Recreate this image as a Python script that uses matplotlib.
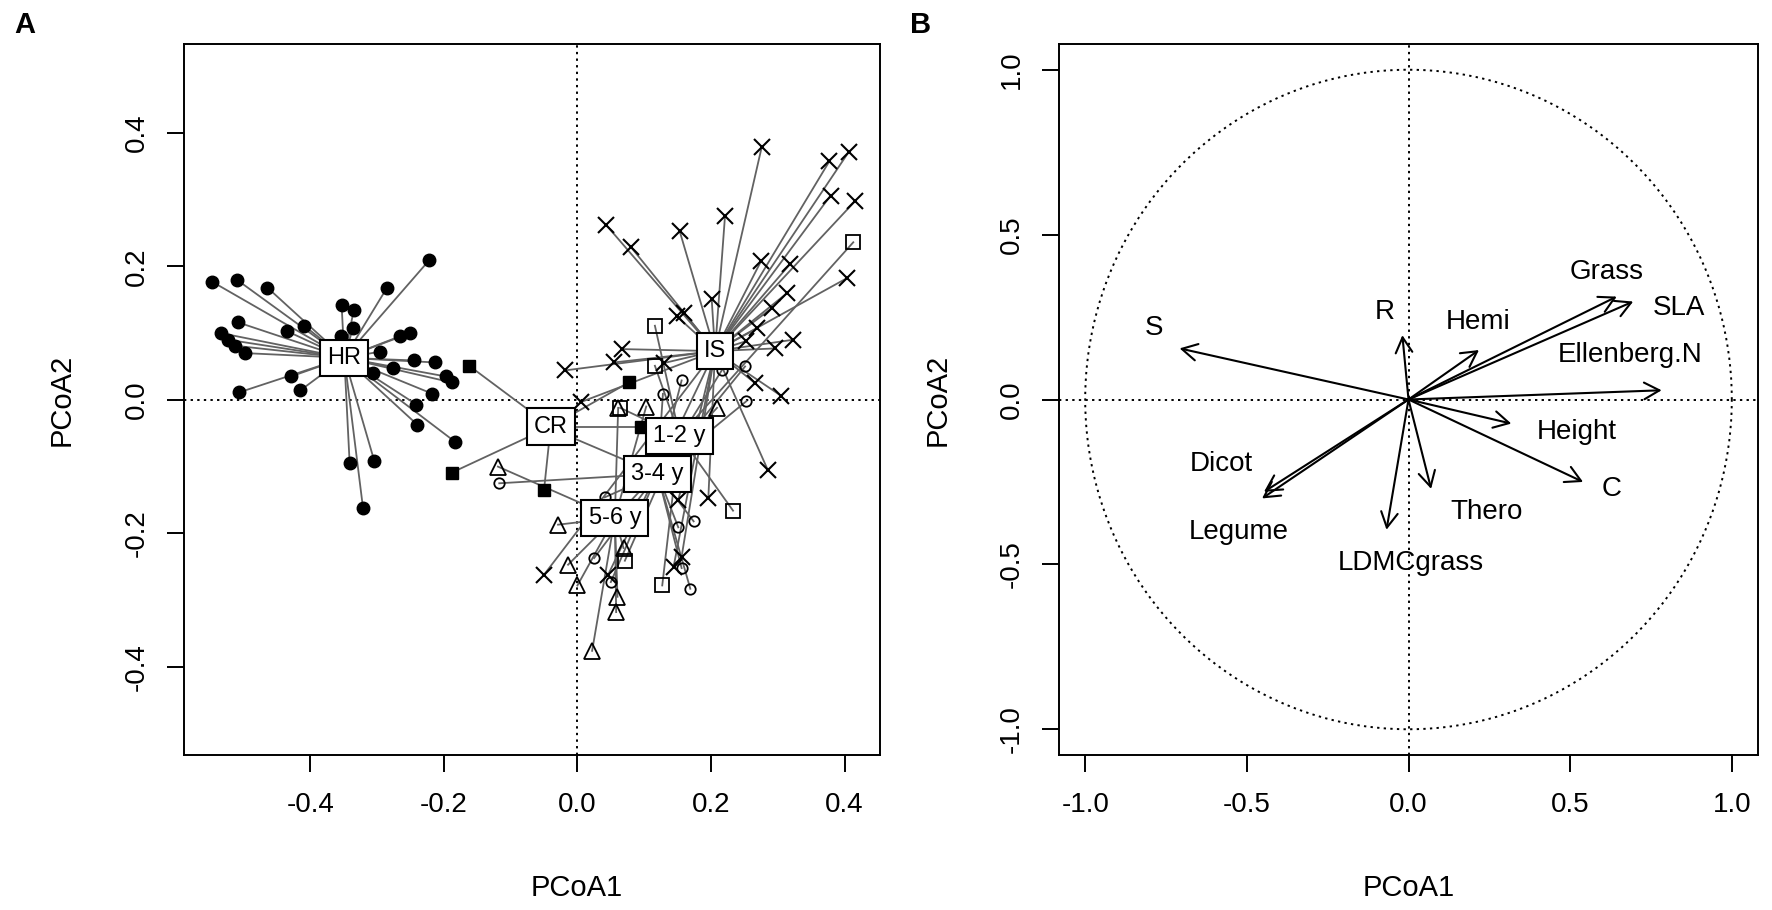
import numpy as np
import matplotlib.pyplot as plt

plt.rcParams['font.family'] = ['Liberation Sans', 'DejaVu Sans']

# ---- Panel A: PCoA scores per group ----
hr_x = [-0.547, -0.510, -0.464, -0.222, -0.285, -0.353, -0.335, -0.336, -0.354, -0.508,
        -0.435, -0.409, -0.534, -0.523, -0.512, -0.498, -0.266, -0.250, -0.296, -0.245,
        -0.213, -0.276, -0.197, -0.188, -0.306, -0.217, -0.241, -0.240, -0.183, -0.507,
        -0.429, -0.415, -0.341, -0.304, -0.321]
hr_y = [0.177, 0.180, 0.168, 0.209, 0.168, 0.142, 0.134, 0.108, 0.095, 0.116,
        0.103, 0.111, 0.100, 0.090, 0.081, 0.070, 0.095, 0.100, 0.072, 0.059,
        0.056, 0.048, 0.035, 0.026, 0.040, 0.009, -0.007, -0.037, -0.063, 0.011,
        0.035, 0.014, -0.095, -0.092, -0.162]

cr_x = [-0.162, -0.188, -0.050, 0.077, 0.095]
cr_y = [0.051, -0.109, -0.135, 0.026, -0.040]

is_x = [0.276, 0.221, 0.153, 0.043, 0.080, 0.201, 0.149, 0.160, 0.275, 0.318,
        0.314, 0.292, 0.269, 0.253, 0.323, 0.296, 0.066, 0.055, -0.019, 0.129,
        0.266, 0.305, 0.377, 0.406, 0.416, 0.379, 0.403, 0.285, -0.050, 0.006,
        0.196, 0.156, 0.144, 0.046, 0.151]
is_y = [0.379, 0.276, 0.253, 0.262, 0.229, 0.151, 0.125, 0.130, 0.208, 0.203,
        0.160, 0.138, 0.107, 0.088, 0.090, 0.077, 0.076, 0.056, 0.044, 0.055,
        0.025, 0.006, 0.357, 0.371, 0.298, 0.306, 0.182, -0.105, -0.262, -0.003,
        -0.147, -0.235, -0.250, -0.262, -0.150]

y12_x = [0.116, 0.116, 0.064, 0.413, 0.233, 0.071, 0.127]
y12_y = [0.111, 0.051, -0.012, 0.236, -0.166, -0.241, -0.278]

y34_x = [-0.117, 0.156, 0.128, 0.251, 0.216, 0.253, 0.041, 0.174, 0.151, 0.025,
         0.050, 0.156, 0.169, -0.035]
y34_y = [-0.125, 0.029, 0.009, 0.050, 0.044, -0.002, -0.146, -0.182, -0.191, -0.237,
         -0.273, -0.252, -0.283, -0.045]

y56_x = [-0.119, 0.061, 0.103, 0.209, -0.029, -0.014, 0.000, 0.069, 0.060, 0.058, 0.022]
y56_y = [-0.100, -0.012, -0.010, -0.012, -0.187, -0.247, -0.278, -0.222, -0.295, -0.318, -0.376]

group_names = ["HR", "CR", "IS", "1-2 y", "3-4 y", "5-6 y"]
centroid_x = [-0.349, -0.040, 0.206, 0.153, 0.120, 0.056]
centroid_y = [0.063, -0.040, 0.073, -0.054, -0.111, -0.177]

# ---- Panel B: trait vectors ----
traits = ["S", "R", "Hemi", "Grass", "SLA", "Ellenberg.N", "Height", "C",
          "Thero", "LDMCgrass", "Dicot", "Legume"]
vec_x = [-0.708, -0.019, 0.218, 0.644, 0.695, 0.783, 0.318, 0.540, 0.070, -0.068, -0.447, -0.453]
vec_y = [0.155, 0.195, 0.150, 0.312, 0.297, 0.028, -0.073, -0.250, -0.271, -0.395, -0.280, -0.300]
lab_x = [-0.787, -0.074, 0.215, 0.613, 0.835, 0.685, 0.520, 0.628, 0.241, 0.007, -0.580, -0.525]
lab_y = [0.218, 0.266, 0.236, 0.388, 0.277, 0.135, -0.098, -0.271, -0.341, -0.495, -0.197, -0.402]

W, H = 1772, 910
fig = plt.figure(figsize=(W / 100, H / 100), dpi=100)
top, bot = 44, 755
axA = fig.add_axes([184 / W, 1 - bot / H, (880 - 184) / W, (bot - top) / H])
axB = fig.add_axes([1059 / W, 1 - bot / H, (1758 - 1059) / W, (bot - top) / H])

dot = (0, (1.2, 2.2))
tick_fs = 20

# spider lines
groups = [(hr_x, hr_y), (cr_x, cr_y), (is_x, is_y), (y12_x, y12_y), (y34_x, y34_y), (y56_x, y56_y)]
for (gx, gy), cx, cy in zip(groups, centroid_x, centroid_y):
    for px, py in zip(gx, gy):
        axA.plot([cx, px], [cy, py], color="#626262", lw=1.3, zorder=2)

axA.axhline(0, color="black", lw=1.4, ls=dot, zorder=1)
axA.axvline(0, color="black", lw=1.4, ls=dot, zorder=1)

mk = dict(ls="none", color="black", zorder=3)
axA.plot(hr_x, hr_y, marker="o", ms=9, **mk)
axA.plot(cr_x, cr_y, marker="s", ms=9, **mk)
axA.plot(is_x, is_y, marker="x", ms=11, mew=1.5, **mk)
axA.plot(y12_x, y12_y, marker="s", ms=10, mfc="none", mew=1.3, **mk)
axA.plot(y34_x, y34_y, marker="o", ms=7.5, mfc="none", mew=1.3, **mk)
axA.plot(y56_x, y56_y, marker="^", ms=11, mfc="none", mew=1.3, **mk)

for name, cx, cy in zip(group_names, centroid_x, centroid_y):
    axA.text(cx, cy, name, ha="center", va="center", fontsize=17, zorder=5,
             bbox=dict(boxstyle="square,pad=0.3", fc="white", ec="black", lw=1.5))

axA.set_xlim(-0.589, 0.453)
axA.set_ylim(-0.532, 0.533)
axA.set_xticks([-0.4, -0.2, 0.0, 0.2, 0.4])
axA.set_xticklabels(["-0.4", "-0.2", "0.0", "0.2", "0.4"])
axA.set_yticks([-0.4, -0.2, 0.0, 0.2, 0.4])
axA.set_yticklabels(["-0.4", "-0.2", "0.0", "0.2", "0.4"], rotation=90, va="center")

# panel B
th = np.linspace(0, 2 * np.pi, 200)
axB.plot(np.cos(th), np.sin(th), color="black", lw=1.4, ls=dot)
axB.axhline(0, color="black", lw=1.4, ls=dot)
axB.axvline(0, color="black", lw=1.4, ls=dot)
for vx, vy in zip(vec_x, vec_y):
    axB.annotate("", xy=(vx, vy), xytext=(0, 0),
                 arrowprops=dict(arrowstyle="->,head_length=0.55,head_width=0.3",
                                 mutation_scale=20, lw=1.5, color="black",
                                 shrinkA=0, shrinkB=0))
for t, lx, ly in zip(traits, lab_x, lab_y):
    axB.text(lx, ly, t, ha="center", va="center", fontsize=20)

axB.set_xlim(-1.081, 1.081)
axB.set_ylim(-1.078, 1.078)
axB.set_xticks([-1.0, -0.5, 0.0, 0.5, 1.0])
axB.set_xticklabels(["-1.0", "-0.5", "0.0", "0.5", "1.0"])
axB.set_yticks([-1.0, -0.5, 0.0, 0.5, 1.0])
axB.set_yticklabels(["-1.0", "-0.5", "0.0", "0.5", "1.0"], rotation=90, va="center")

for ax in (axA, axB):
    for s in ax.spines.values():
        s.set_linewidth(1.4)
    ax.tick_params(axis="both", direction="out", length=12.5, width=1.4, labelsize=tick_fs)
    ax.tick_params(axis="x", pad=14)
    ax.tick_params(axis="y", pad=12)

fig.text(577 / W, 1 - 888 / H, "PCoA1", ha="center", va="center", fontsize=21)
fig.text(1409 / W, 1 - 888 / H, "PCoA1", ha="center", va="center", fontsize=21)
fig.text(62 / W, 1 - 400 / H, "PCoA2", ha="center", va="center", fontsize=21, rotation=90)
fig.text(938 / W, 1 - 400 / H, "PCoA2", ha="center", va="center", fontsize=21, rotation=90)
fig.text(25 / W, 1 - 25 / H, "A", ha="center", va="center", fontsize=21, fontweight="bold")
fig.text(921 / W, 1 - 25 / H, "B", ha="center", va="center", fontsize=21, fontweight="bold")

fig.savefig("out.png", dpi=100)
